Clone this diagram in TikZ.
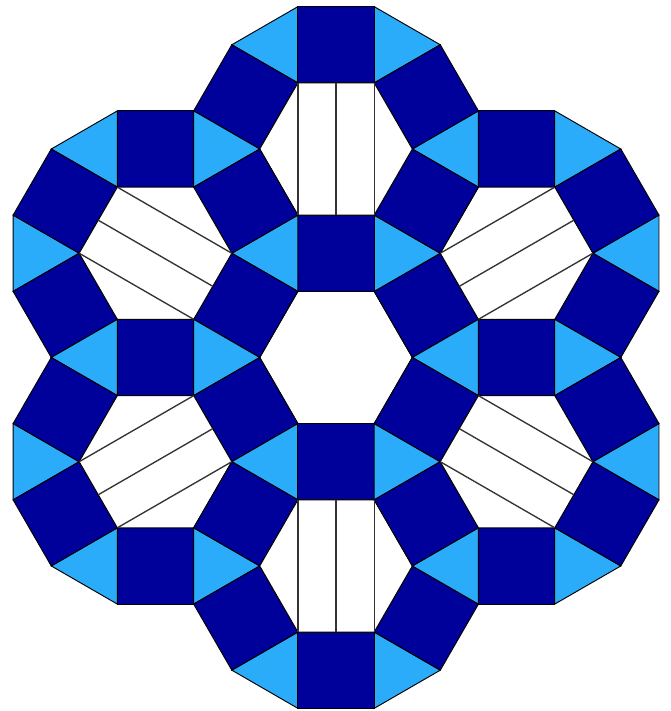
\documentclass[tikz,border=0pt]{standalone}
\usepackage{tikz}

\definecolor{tileblue}{RGB}{0,0,155}
\definecolor{tilecyan}{RGB}{42,172,250}

\begin{document}
\begin{tikzpicture}[x=1cm,y=1cm,
    sq/.style={fill=tileblue,draw=black,line width=0.35pt},
    tri/.style={fill=tilecyan,draw=black,line width=0.35pt},
    hex/.style={fill=white,draw=black,line width=0.35pt},
    cut/.style={draw=black!80,line width=0.5pt}]

\useasboundingbox (-4.404,-4.633) rectangle (4.377,4.685);

\foreach \a/\d in {0/0,30/2.7320508,90/2.7320508,150/2.7320508,
                   210/2.7320508,270/2.7320508,330/2.7320508} {
  \begin{scope}[shift={(\a:\d)}]
    \foreach \v in {0,60,...,300}
      \draw[tri] (\v:1) -- +(\v-30:1) -- +(\v+30:1) -- cycle;
    \foreach \n in {30,90,...,330}
      \draw[sq] (\n+30:1) -- ++(\n:1) -- ++(\n-90:1) -- ++(\n+180:1) -- cycle;
    \draw[hex] (0:1) -- (60:1) -- (120:1) -- (180:1) -- (240:1) -- (300:1) -- cycle;
  \end{scope}
}

\foreach \a in {30,90,150,210,270,330} {
  \begin{scope}[shift={(\a:2.7320508)},rotate=\a-90]
    \foreach \x in {-0.5,0,0.5}
      \draw[cut] (\x,-0.866) -- (\x,0.866);
  \end{scope}
}
\end{tikzpicture}
\end{document}
